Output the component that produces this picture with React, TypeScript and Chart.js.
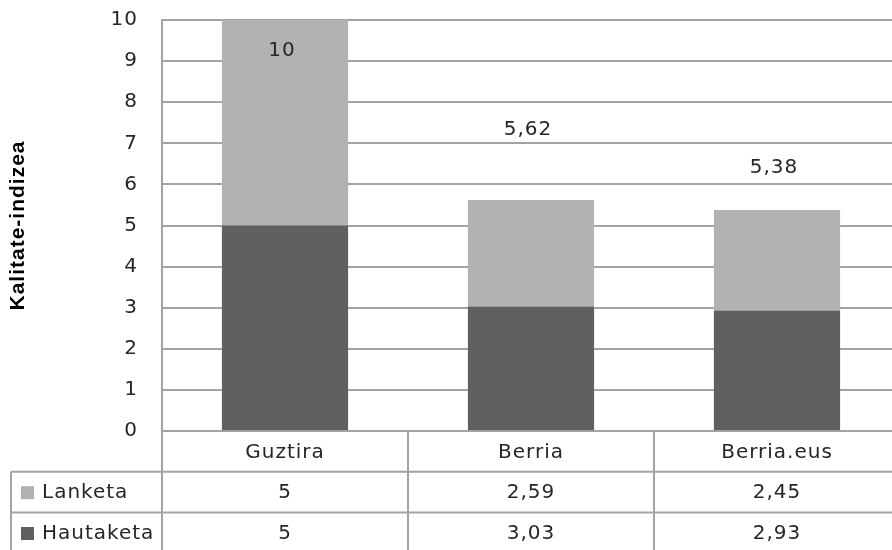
import React, { useEffect, useRef } from "react";
import { Chart, registerables } from "chart.js";

Chart.register(...registerables);

const categories = ["Guztira", "Berria", "Berria.eus"];
const seriesNames = ["Lanketa", "Hautaketa"];
const lanketa = [5, 2.59, 2.45];
const hautaketa = [5, 3.03, 2.93];
const yMin = 0;
const yMax = 10;
const yStep = 1;
const axisTitle = "Kalitate-indizea";
// vertical anchor (in data units) of each total label, as placed in the original
const totalLabelAt = [9.24, 7.32, 6.4];

const LIGHT = "#b2b2b2";
const DARK = "#606060";
const LINE = "#a3a3a3";
const TEXT = "#262626";
const FONT = "DejaVu Sans";
const FS = 20;

const fmt = (v: number) => String(Math.round(v * 100) / 100).replace(".", ",");

export default function App() {
  const ref = useRef<HTMLCanvasElement | null>(null);

  useEffect(() => {
    if (!ref.current) return;

    const spacingPlugin = {
      id: "spacing",
      beforeDraw(chart: any) {
        chart.ctx.letterSpacing = "1px";
      },
    };

    const totalsPlugin = {
      id: "totals",
      afterDatasetsDraw(chart: any) {
        const { ctx, scales } = chart;
        ctx.save();
        ctx.letterSpacing = "1px";
        ctx.font = `${FS}px "${FONT}"`;
        ctx.fillStyle = TEXT;
        ctx.textAlign = "center";
        ctx.textBaseline = "middle";
        categories.forEach((_, i) => {
          const total = lanketa[i] + hautaketa[i];
          ctx.fillText(
            fmt(total),
            scales.x.getPixelForValue(i) - 3,
            scales.y.getPixelForValue(totalLabelAt[i])
          );
        });
        ctx.restore();
      },
    };

    const tablePlugin = {
      id: "dataTable",
      afterDraw(chart: any) {
        const { ctx, chartArea: a, scales } = chart;
        const n = categories.length;
        const cw = (a.right - a.left) / n;
        const rowH = 40.8;
        const y0 = a.bottom;
        const y1 = y0 + rowH;
        const y2 = y1 + rowH;
        const y3 = chart.height;
        const tableLeft = 11;
        ctx.save();
        ctx.letterSpacing = "1px";
        ctx.strokeStyle = LINE;
        ctx.lineWidth = 2;
        const line = (xa: number, ya: number, xb: number, yb: number) => {
          ctx.beginPath();
          ctx.moveTo(xa, ya);
          ctx.lineTo(xb, yb);
          ctx.stroke();
        };
        line(a.left, y0, a.right, y0);
        line(tableLeft, y1, a.right, y1);
        line(tableLeft, y2, a.right, y2);
        for (let i = 0; i <= n; i++) {
          const xx = a.left + i * cw;
          line(xx, y0, xx, y3);
        }
        line(tableLeft, y1, tableLeft, y3);

        ctx.font = `${FS}px "${FONT}"`;
        ctx.fillStyle = TEXT;
        ctx.textBaseline = "middle";
        ctx.textAlign = "center";
        categories.forEach((c, i) => {
          ctx.fillText(c, scales.x.getPixelForValue(i), (y0 + y1) / 2 + 1);
        });

        const rows = [
          { name: seriesNames[0], color: LIGHT, values: lanketa, top: y1 },
          { name: seriesNames[1], color: DARK, values: hautaketa, top: y2 },
        ];
        rows.forEach((r) => {
          const cy = r.top + rowH / 2 + 1;
          ctx.fillStyle = r.color;
          ctx.fillRect(21, cy - 7, 13, 13);
          ctx.fillStyle = TEXT;
          ctx.textAlign = "left";
          ctx.fillText(r.name, 42, cy);
          ctx.textAlign = "center";
          r.values.forEach((v, i) => {
            ctx.fillText(fmt(v), scales.x.getPixelForValue(i), cy);
          });
        });
        ctx.restore();
      },
    };

    const chart = new Chart(ref.current, {
      type: "bar",
      data: {
        labels: categories,
        datasets: [
          {
            label: seriesNames[1],
            data: hautaketa,
            backgroundColor: DARK,
            borderWidth: 0,
            barPercentage: 1,
            categoryPercentage: 0.513,
          },
          {
            label: seriesNames[0],
            data: lanketa,
            backgroundColor: LIGHT,
            borderWidth: 0,
            barPercentage: 1,
            categoryPercentage: 0.513,
          },
        ],
      },
      options: {
        responsive: false,
        animation: false,
        devicePixelRatio: 1,
        layout: { padding: { top: 20, left: 0, right: 0, bottom: 0 } },
        plugins: {
          legend: { display: false },
          tooltip: { enabled: false },
        },
        scales: {
          x: {
            stacked: true,
            grid: { display: false },
            border: { display: false },
            ticks: { display: false },
            afterFit(s: any) {
              s.height = 119;
            },
          },
          y: {
            stacked: true,
            min: yMin,
            max: yMax,
            ticks: {
              stepSize: yStep,
              padding: 24,
              color: TEXT,
              font: { family: FONT, size: FS },
            },
            grid: {
              color: LINE,
              lineWidth: 2,
              drawTicks: false,
            },
            border: { display: true, color: LINE, width: 2 },
            title: {
              display: true,
              text: axisTitle,
              color: "#000",
              font: { family: "Liberation Sans", size: 21, weight: "bold" },
              padding: { top: 6, bottom: 0 },
            },
            afterFit(s: any) {
              s.width = 162;
              s.paddingTop = 0;
              s.paddingBottom = 0;
            },
          },
        },
      },
      plugins: [spacingPlugin, totalsPlugin, tablePlugin],
    });

    return () => chart.destroy();
  }, []);

  return (
    <div
      style={{
        position: "fixed",
        left: 0,
        top: 0,
        width: 892,
        height: 550,
        overflow: "hidden",
        background: "#fff",
      }}
    >
      <canvas ref={ref} width={900} height={550} style={{ width: 900, height: 550 }} />
    </div>
  );
}
